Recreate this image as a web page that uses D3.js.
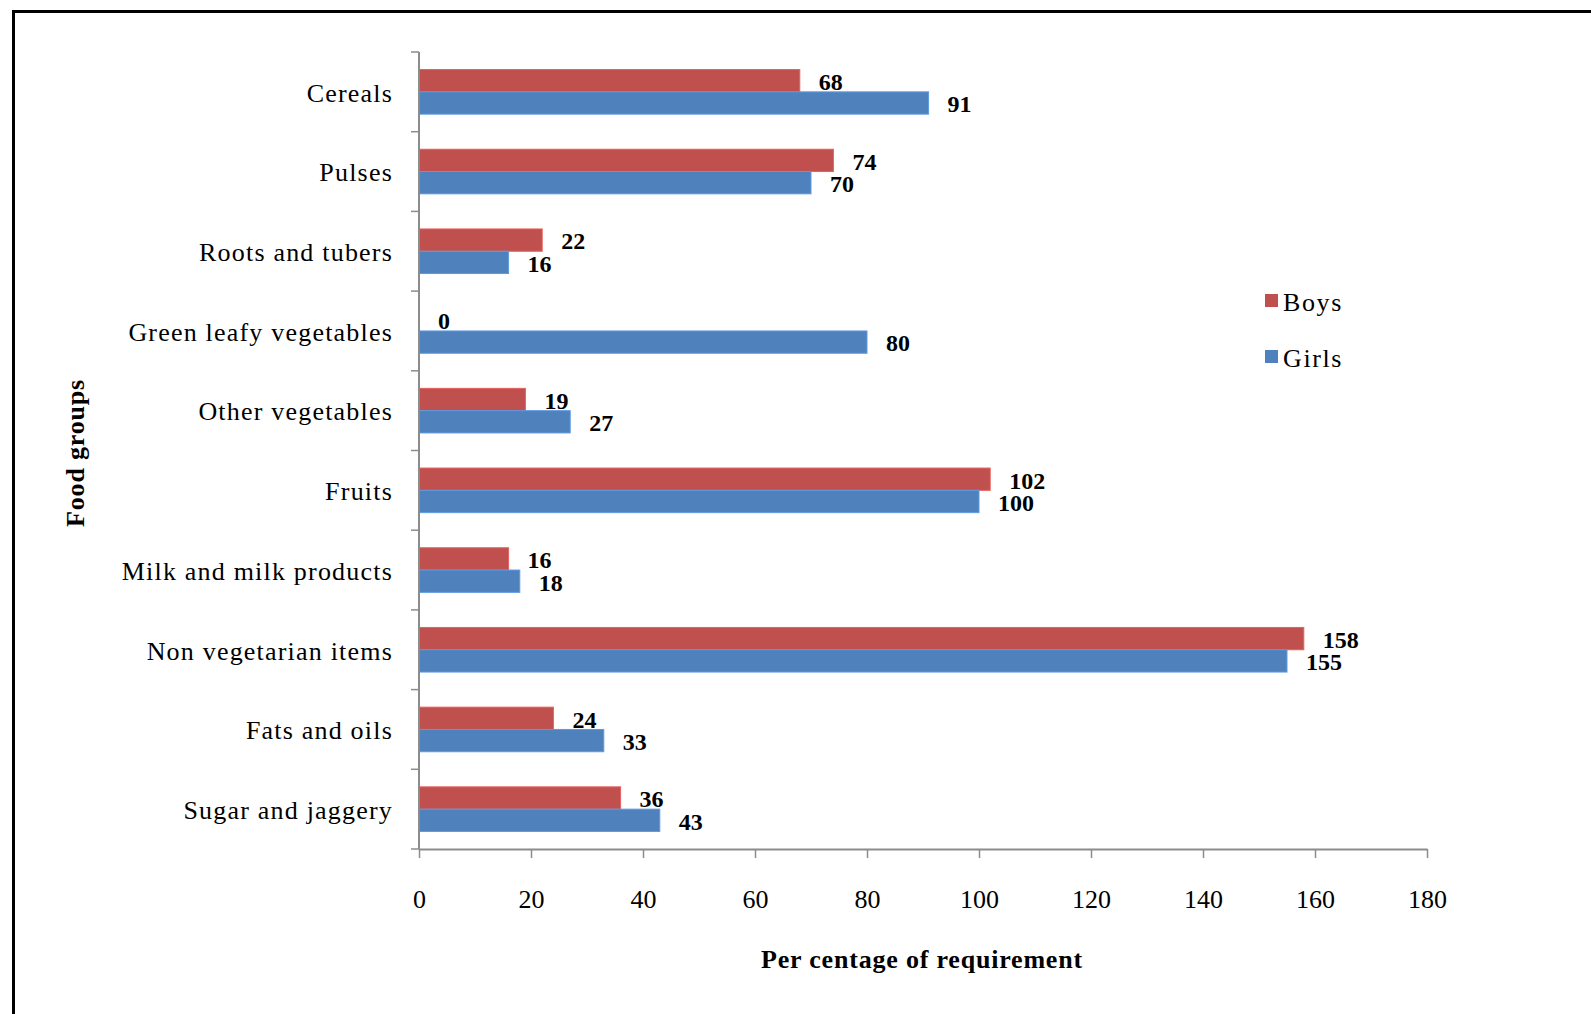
<!DOCTYPE html>
<html>
<head>
<meta charset="utf-8">
<script src="https://cdn.jsdelivr.net/npm/d3@7"></script>
<style>
  html, body { margin: 0; padding: 0; background: #fff; }
  svg { display: block; }
  text { font-family: "Liberation Serif", "Times New Roman", serif; fill: #000; }
</style>
</head>
<body>
<svg id="chart" width="1591" height="1014"></svg>
<script>
// Food groups, top to bottom
const categories = [
  "Cereals", "Pulses", "Roots and tubers", "Green leafy vegetables",
  "Other vegetables", "Fruits", "Milk and milk products",
  "Non vegetarian items", "Fats and oils", "Sugar and jaggery"
];
const seriesNames = ["Boys", "Girls"];
const boysValues  = [68, 74, 22, 0, 19, 102, 16, 158, 24, 36];
const girlsValues = [91, 70, 16, 80, 27, 100, 18, 155, 33, 43];
const xTicks = [0, 20, 40, 60, 80, 100, 120, 140, 160, 180];
const seriesColors = ["#C0504D", "#4F81BD"];

const svg = d3.select("#chart");

// outer frame
svg.append("rect")
  .attr("x", 13.5).attr("y", 11.5)
  .attr("width", 1700).attr("height", 1100)
  .attr("fill", "none").attr("stroke", "#000").attr("stroke-width", 3);

const plotLeft = 419, plotRight = 1427, plotTop = 52, plotBottom = 849;

const x = d3.scaleLinear().domain([0, 180]).range([plotLeft, plotRight]);
const y = d3.scaleBand().domain(categories).range([plotTop, plotBottom]).padding(0);
const ySub = d3.scaleBand().domain(seriesNames).range([0, y.bandwidth()])
  .paddingInner(0).paddingOuter(0.787);

const rows = categories.map((c, i) => ({
  cat: c,
  vals: [
    { s: "Boys", v: boysValues[i], color: seriesColors[0] },
    { s: "Girls", v: girlsValues[i], color: seriesColors[1] }
  ]
}));

// bars
const g = svg.append("g");
const groups = g.selectAll("g.cat").data(rows).join("g")
  .attr("class", "cat")
  .attr("transform", d => `translate(0,${y(d.cat)})`);

groups.selectAll("rect").data(d => d.vals).join("rect")
  .attr("x", x(0))
  .attr("y", d => ySub(d.s))
  .attr("width", d => x(d.v) - x(0))
  .attr("height", ySub.bandwidth())
  .attr("fill", d => d.color)
  .attr("stroke", d => d3.color(d.color).brighter(0.5))
  .attr("stroke-width", 1);

// value labels
groups.selectAll("text").data(d => d.vals).join("text")
  .attr("x", d => x(d.v) + 19)
  .attr("y", d => ySub(d.s) + ySub.bandwidth() / 2 + 1)
  .attr("dy", "0.35em")
  .attr("font-size", 24)
  .attr("font-weight", "bold")
  .text(d => d.v);

// x axis
const xAxis = d3.axisBottom(x).tickValues(xTicks).tickSize(9).tickPadding(32).tickSizeOuter(0);
const gx = svg.append("g").attr("transform", `translate(0,${plotBottom})`).call(xAxis);
gx.select(".domain").attr("stroke", "#8c8c8c").attr("stroke-width", 2);
gx.selectAll(".tick line").attr("stroke", "#8c8c8c").attr("stroke-width", 1.5);
gx.selectAll(".tick text")
  .attr("font-family", "Liberation Serif, serif")
  .attr("font-size", 26)
  .attr("fill", "#000");

// y axis line with ticks between categories
const yBounds = categories.map(c => y(c)).concat([y(categories[categories.length - 1]) + y.bandwidth()]);
svg.append("line")
  .attr("x1", plotLeft).attr("x2", plotLeft)
  .attr("y1", plotTop).attr("y2", plotBottom)
  .attr("stroke", "#8c8c8c").attr("stroke-width", 2);
svg.append("g").selectAll("line").data(yBounds).join("line")
  .attr("x1", plotLeft - 8).attr("x2", plotLeft)
  .attr("y1", d => d).attr("y2", d => d)
  .attr("stroke", "#8c8c8c").attr("stroke-width", 1.5);

// category labels
svg.append("g").selectAll("text").data(categories).join("text")
  .attr("x", plotLeft - 26)
  .attr("y", d => y(d) + y.bandwidth() / 2 + 2)
  .attr("dy", "0.3em")
  .attr("text-anchor", "end")
  .attr("font-size", 26)
  .attr("letter-spacing", 1.2)
  .text(d => d);

// axis titles
svg.append("text")
  .attr("x", 922).attr("y", 959).attr("dy", "0.35em")
  .attr("text-anchor", "middle")
  .attr("font-size", 26).attr("font-weight", "bold")
  .attr("letter-spacing", 0.8)
  .text("Per centage of requirement");

svg.append("text")
  .attr("transform", "translate(75,453) rotate(-90)")
  .attr("dy", "0.35em")
  .attr("text-anchor", "middle")
  .attr("font-size", 26).attr("font-weight", "bold")
  .attr("letter-spacing", 0.8)
  .text("Food groups");

// legend
const legend = svg.append("g").attr("transform", "translate(1265,294)");
const li = legend.selectAll("g").data(seriesNames).join("g")
  .attr("transform", (d, i) => `translate(0,${i * 56})`);
li.append("rect")
  .attr("width", 13).attr("height", 13)
  .attr("fill", (d, i) => seriesColors[i]);
li.append("text")
  .attr("x", 18).attr("y", 8).attr("dy", "0.35em")
  .attr("font-size", 26)
  .attr("letter-spacing", 1.6)
  .text(d => d);
</script>
</body>
</html>
